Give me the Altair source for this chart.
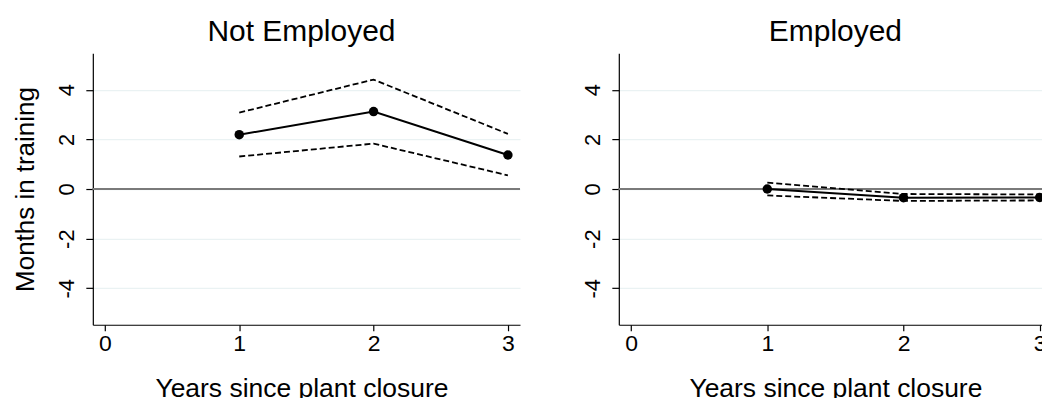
import altair as alt
import pandas as pd

# Years since plant closure and axis tick positions
years = [1, 2, 3]
x_ticks = [0, 1, 2, 3]
y_ticks = [-4, -2, 0, 2, 4]

# Not employed: point estimate with upper / lower confidence bounds (months)
not_employed_est = [2.19, 3.12, 1.37]
not_employed_upper = [3.08, 4.41, 2.22]
not_employed_lower = [1.31, 1.83, 0.55]

# Employed: point estimate with upper / lower confidence bounds (months)
employed_est = [0.00, -0.35, -0.34]
employed_upper = [0.26, -0.20, -0.22]
employed_lower = [-0.26, -0.48, -0.46]

FONT = "Liberation Sans"
X_DOMAIN = [-0.09, 3.09]
Y_DOMAIN = [-5.47, 5.47]


def long_frame(est, upper, lower):
    rows = []
    for name, vals in (("est", est), ("upper", upper), ("lower", lower)):
        for yr, v in zip(years, vals):
            rows.append({"year": yr, "series": name, "value": v})
    return pd.DataFrame(rows)


def panel(title, est, upper, lower, width, y_title, shift):
    df = long_frame(est, upper, lower)
    x = alt.X(
        "year:Q",
        scale=alt.Scale(domain=X_DOMAIN, nice=False, zero=False),
        axis=alt.Axis(
            values=x_ticks,
            labelExpr="datum.value + ''",
            title="Years since plant closure",
            titleX=width / 2 + shift,
            grid=False,
            labelFontSize=23,
            labelPadding=2,
            titleFontSize=26.5,
            titlePadding=20,
            tickSize=6,
        ),
    )
    y = alt.Y(
        "value:Q",
        scale=alt.Scale(domain=Y_DOMAIN, nice=False, zero=False),
        axis=alt.Axis(
            values=y_ticks,
            labelExpr="datum.value + ''",
            title=y_title,
            grid=True,
            gridColor="#eaf2f3",
            gridWidth=1.3,
            labelAngle=-90,
            labelAlign="center",
            labelBaseline="middle",
            labelFontSize=22,
            labelPadding=19,
            titleFontSize=26,
            titlePadding=17,
            tickSize=7,
        ),
    )
    base = alt.Chart(df).encode(x=x, y=y)

    zero_line = alt.Chart(df).mark_rule(color="#7a7a7a", strokeWidth=1.1).encode(
        y=alt.datum(0)
    )
    bounds = (
        base.transform_filter(alt.datum.series != "est")
        .mark_line(color="black", strokeWidth=1.8, strokeDash=[6, 3])
        .encode(detail="series:N")
    )
    est_line = base.transform_filter(alt.datum.series == "est").mark_line(
        color="black", strokeWidth=2
    )
    est_pts = base.transform_filter(alt.datum.series == "est").mark_circle(
        color="black", size=90, opacity=1
    )
    return alt.layer(zero_line, bounds, est_line, est_pts).properties(
        width=width,
        height=272,
        title=alt.Title(title, fontSize=30, fontWeight="normal", offset=6,
                        dx=shift, color="black"),
    )


left = panel("Not Employed", not_employed_est, not_employed_upper,
             not_employed_lower, 428, "Months in training", -5)
right = panel("Employed", employed_est, employed_upper, employed_lower, 434, None, 0)

chart = (
    alt.hconcat(left, right, spacing=61)
    .properties(padding={"left": 13, "top": 17, "right": -11, "bottom": -5})
    .configure(font=FONT)
    .configure_view(strokeWidth=0)
    .configure_axis(
        domainColor="black",
        domainWidth=1.2,
        tickColor="black",
        tickWidth=1.2,
        labelColor="black",
        titleColor="black",
        titleFontWeight="normal",
        labelFont=FONT,
        titleFont=FONT,
    )
    .configure_title(font=FONT)
)

chart.save("out.html", embed_options={"renderer": "svg", "actions": False})
